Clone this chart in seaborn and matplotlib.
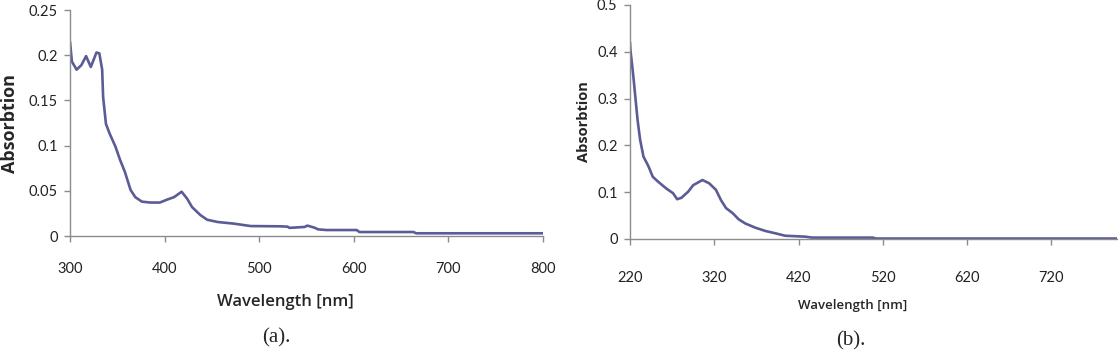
import numpy as np
import pandas as pd
import matplotlib
matplotlib.use("Agg")
import matplotlib.pyplot as plt
import seaborn as sns

# Panel (a) spectrum
wl_a = [300, 302, 307, 312, 317, 322, 328, 331, 334, 335, 338, 342, 348, 353, 358, 364,
        369, 376, 385, 395, 402, 410, 418, 424, 429, 438, 445, 456, 473, 491, 523,
        530, 532, 548, 551, 559, 562, 571, 603, 606, 663, 666, 800]
abs_a = [0.215, 0.193, 0.184, 0.189, 0.199, 0.187, 0.203, 0.202, 0.184, 0.154, 0.124, 0.113,
         0.099, 0.084, 0.071, 0.051, 0.043, 0.038, 0.037, 0.037, 0.040, 0.043, 0.049, 0.041,
         0.032, 0.023, 0.018, 0.0155, 0.0137, 0.011, 0.0107, 0.0103, 0.009, 0.010, 0.0115,
         0.009, 0.0074, 0.0066, 0.0066, 0.0044, 0.0044, 0.003, 0.003]

# Panel (b) spectrum
wl_b = [220, 220.5, 224, 229, 232, 236, 242, 247, 253, 263, 271, 276, 281, 289, 295, 306,
        314, 322, 328, 334, 342, 349, 357, 369, 381, 393, 404, 428, 436, 491, 508, 512, 798]
abs_b = [0.42, 0.404, 0.347, 0.254, 0.212, 0.176, 0.155, 0.133, 0.123, 0.108, 0.098, 0.085,
         0.088, 0.101, 0.115, 0.126, 0.119, 0.105, 0.083, 0.066, 0.055, 0.042, 0.033, 0.024,
         0.017, 0.012, 0.007, 0.005, 0.003, 0.003, 0.003, 0.001, 0.001]

yticks_a = [0, 0.05, 0.1, 0.15, 0.2, 0.25]
ytlab_a = ["0", "0.05", "0.1", "0.15", "0.2", "0.25"]
xticks_a = [300, 400, 500, 600, 700, 800]
yticks_b = [0, 0.1, 0.2, 0.3, 0.4, 0.5]
ytlab_b = ["0", "0.1", "0.2", "0.3", "0.4", "0.5"]
xticks_b = [220, 320, 420, 520, 620, 720]

sns.set_style("white")
plt.rcParams['font.family'] = ['Lato', 'DejaVu Sans']

LINE = "#5b5b96"
SPINE = "#8c8c8c"

fig = plt.figure(figsize=(11.2, 3.53), dpi=100)
axa = fig.add_axes([70/1120, 1-236/353, 473/1120, 226/353])
axb = fig.add_axes([630/1120, 1-239/353, 487/1120, 234/353])

sns.lineplot(x=wl_a, y=abs_a, ax=axa, color=LINE, linewidth=1.9)
sns.lineplot(x=wl_b, y=abs_b, ax=axb, color=LINE, linewidth=1.9)

axa.set_xlim(300, 800)
axa.set_ylim(0, 0.25)
axb.set_xlim(220, 798)
axb.set_ylim(0, 0.5)

for ax, xt, yt, ytl, pad in [(axa, xticks_a, yticks_a, ytlab_a, 15),
                             (axb, xticks_b, yticks_b, ytlab_b, 19)]:
    ax.set_xticks(xt)
    ax.set_xticklabels([str(v) for v in xt])
    ax.set_yticks(yt)
    ax.set_yticklabels(ytl)
    for s in ["top", "right"]:
        ax.spines[s].set_visible(False)
    for s in ["left", "bottom"]:
        ax.spines[s].set_color(SPINE)
        ax.spines[s].set_linewidth(1.0)
    ax.tick_params(axis="x", direction="out", length=4, width=1, color=SPINE,
                   labelsize=10.5, labelcolor="#222222", pad=pad, bottom=True)
    ax.tick_params(axis="y", direction="out", length=4, width=1, color=SPINE,
                   labelsize=10.5, labelcolor="#222222", pad=5, left=True)
    ax.set_xlabel("")
    ax.set_ylabel("")
    ax.set_facecolor("white")

fig.text(10/1120, 1-123/353, "Absorbtion", rotation=90, ha="center", va="center",
         family=["Open Sans", "DejaVu Sans"], weight="bold", fontsize=13)
fig.text(584/1120, 1-122/353, "Absorbtion", rotation=90, ha="center", va="center",
         family=["Open Sans", "DejaVu Sans"], weight="bold", fontsize=10.5)
fig.text(285/1120, 1-302/353, "Wavelength [nm]", ha="center", va="center",
         family=["Open Sans", "DejaVu Sans"], weight="semibold", fontsize=12)
fig.text(853/1120, 1-305/353, "Wavelength [nm]", ha="center", va="center",
         family=["Open Sans", "DejaVu Sans"], weight="semibold", fontsize=9.5)
fig.text(276/1120, 1-338/353, "(a).", ha="center", va="center",
         family=["Liberation Serif", "DejaVu Serif"], fontsize=15)
fig.text(851/1120, 1-341/353, "(b).", ha="center", va="center",
         family=["Liberation Serif", "DejaVu Serif"], fontsize=15)

fig.savefig("out.png", dpi=100, facecolor="white")
